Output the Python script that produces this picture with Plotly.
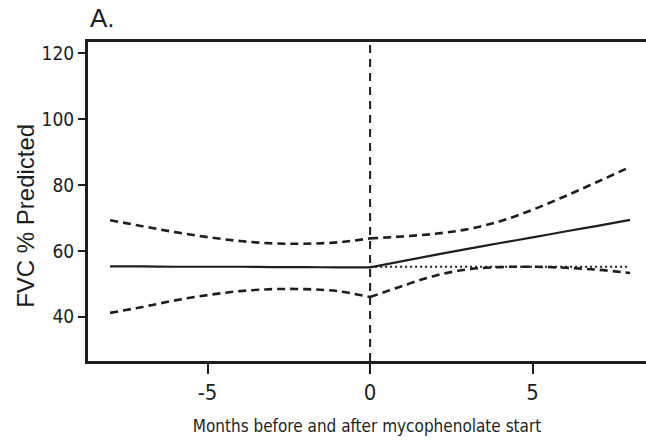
import plotly.graph_objects as go

# Months relative to mycophenolate start
months_pre = [-8, -7, -6, -5, -4, -3, -2, -1, 0]
months_post = [0, 1, 2, 3, 4, 5, 6, 7, 8]

# Estimated FVC % predicted (mean trajectory)
fvc_pre = [55.3, 55.3, 55.2, 55.2, 55.2, 55.1, 55.1, 55.0, 55.0]
fvc_post = [55.0, 56.9, 58.8, 60.6, 62.4, 64.1, 65.9, 67.6, 69.4]

# Upper 95% confidence bound
upper_pre = [69.3, 67.5, 65.7, 64.2, 63.0, 62.3, 62.2, 62.6, 63.8]
upper_post = [63.8, 64.4, 65.2, 66.6, 69.0, 72.5, 76.6, 81.0, 85.5]

# Lower 95% confidence bound
lower_pre = [41.2, 43.0, 45.0, 46.6, 47.8, 48.4, 48.4, 47.8, 46.0]
lower_post = [46.0, 49.4, 52.5, 54.4, 55.1, 55.2, 54.9, 54.3, 53.3]

# Pre-treatment level carried forward
ref_months = [0, 8]
ref_level = [55.2, 55.2]

x_ticks = [-5, 0, 5]
y_ticks = [40, 60, 80, 100, 120]

ink = "#1e1e1e"
narrow = "DejaVu Sans Condensed, Liberation Sans Narrow, Arial Narrow, sans-serif"
regular = "Liberation Sans, Arial, sans-serif"

fig = go.Figure()

dash_style = dict(color=ink, width=2.6, dash="8px,5px")

for xs, ys in [(months_pre, upper_pre), (months_post, upper_post),
               (months_pre, lower_pre), (months_post, lower_post)]:
    fig.add_trace(go.Scatter(x=xs, y=ys, mode="lines", line_shape="spline",
                             line=dash_style, hoverinfo="skip", showlegend=False))

fig.add_trace(go.Scatter(x=ref_months, y=ref_level, mode="lines",
                         line=dict(color=ink, width=2, dash="2px,3px"),
                         showlegend=False))

for xs, ys in [(months_pre, fvc_pre), (months_post, fvc_post)]:
    fig.add_trace(go.Scatter(x=xs, y=ys, mode="lines", line_shape="spline",
                             line=dict(color=ink, width=2.2), showlegend=False))

# Treatment start marker
fig.add_shape(type="line", xref="x", yref="paper", x0=0, x1=0, y0=0, y1=1,
              line=dict(color=ink, width=2, dash="8px,6px"))

# Panel letter
fig.add_annotation(text="A.", xref="paper", yref="paper", x=0.0, y=1.0,
                   xanchor="left", yanchor="bottom", yshift=7, showarrow=False,
                   font=dict(family=regular, size=26, color=ink))

# Y-axis title
fig.add_annotation(text="FVC % Predicted", xref="paper", yref="paper", x=0.0, y=0.455,
                   xanchor="center", yanchor="middle", xshift=-62, textangle=-90,
                   showarrow=False, font=dict(family=regular, size=24, color=ink))

fig.update_layout(
    width=646, height=442,
    margin=dict(l=88, r=0, t=42, b=81),
    paper_bgcolor="white", plot_bgcolor="white",
    xaxis=dict(range=[-8.68, 8.49], tickvals=x_ticks, ticktext=[str(v) for v in x_ticks],
               showgrid=False, zeroline=False, showline=True, mirror=True,
               linecolor=ink, linewidth=3, ticks="outside", ticklen=10, tickwidth=2,
               tickcolor=ink,
               tickfont=dict(family=narrow, size=22, color=ink),
               title=dict(text="Months before and after mycophenolate start",
                          font=dict(family=narrow, size=17, color=ink), standoff=16)),
    yaxis=dict(range=[26.6, 123.4], tickvals=y_ticks, ticktext=[str(v) for v in y_ticks],
               showgrid=False, zeroline=False, showline=True, mirror=False,
               linecolor=ink, linewidth=3, ticks="outside", ticklen=7, tickwidth=2,
               tickcolor=ink,
               tickfont=dict(family=narrow, size=19, color=ink)),
)

fig.write_html("out.html")
